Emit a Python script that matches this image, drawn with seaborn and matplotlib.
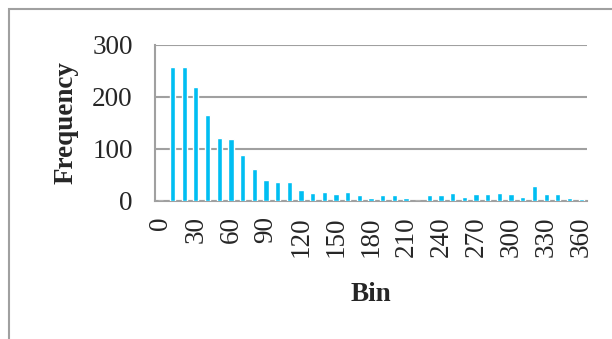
import matplotlib
matplotlib.use("Agg")
import matplotlib.pyplot as plt
import seaborn as sns
import pandas as pd
from matplotlib.patches import Rectangle

bins = list(range(0, 361, 10))
freq = [0, 258, 258, 220, 165, 122, 120, 88, 61, 41, 36, 36, 21, 15, 18, 14,
        18, 11, 5, 11, 11, 6, 0, 11, 11, 16, 8, 13, 13, 16, 13, 8, 28, 13, 13, 6, 4]
shown_labels = [str(b) if b % 30 == 0 else "" for b in bins]

sns.set_style("white")
plt.rcParams['font.family'] = ['Liberation Serif', 'DejaVu Serif']

df = pd.DataFrame({'Bin': [str(b) for b in bins], 'Frequency': freq})

fig = plt.figure(figsize=(6.12, 3.39), dpi=100)
ax = fig.add_axes([155 / 612, 1 - 201 / 339, 432 / 612, 156 / 339])

# outer frame like the spreadsheet chart area
fig.patches.append(Rectangle((9 / 612, -0.1), 1.2, 1 - 9.5 / 339 + 0.1, transform=fig.transFigure,
                             fill=False, edgecolor='#A0A0A0', linewidth=1.5))

sns.barplot(data=df, x='Bin', y='Frequency', color='#00BEF2', width=0.45,
            saturation=1, ax=ax, zorder=3)

ax.set_ylim(0, 300)
ax.set_xlim(-0.5, len(bins) - 0.5)
ax.set_yticks([0, 100, 200, 300])
ax.yaxis.grid(True, color='#A0A0A0', linewidth=1.5, zorder=0)
ax.set_axisbelow(True)

ax.set_xticks(range(len(bins)))
ax.set_xticklabels(shown_labels, rotation=90)
ax.set_xticks([i - 0.5 for i in range(len(bins) + 1)], minor=True)
ax.tick_params(axis='x', which='major', length=0, pad=11, labelsize=19.5)
ax.tick_params(axis='x', which='minor', length=6, width=1.5, color='#A0A0A0')
ax.tick_params(axis='y', length=6, width=1.5, color='#A0A0A0', labelsize=19.5, pad=10)

for s in ['top', 'right']:
    ax.spines[s].set_visible(False)
for s in ['left', 'bottom']:
    ax.spines[s].set_color('#A0A0A0')
    ax.spines[s].set_linewidth(1.5)

ax.set_xlabel('Bin', fontsize=19.5, fontweight='bold')
ax.set_ylabel('Frequency', fontsize=19.5, fontweight='bold')
ax.xaxis.set_label_coords(0.5, -0.52)
ax.yaxis.set_label_coords(-0.178, 0.5)

fig.savefig('out.png', dpi=100)
